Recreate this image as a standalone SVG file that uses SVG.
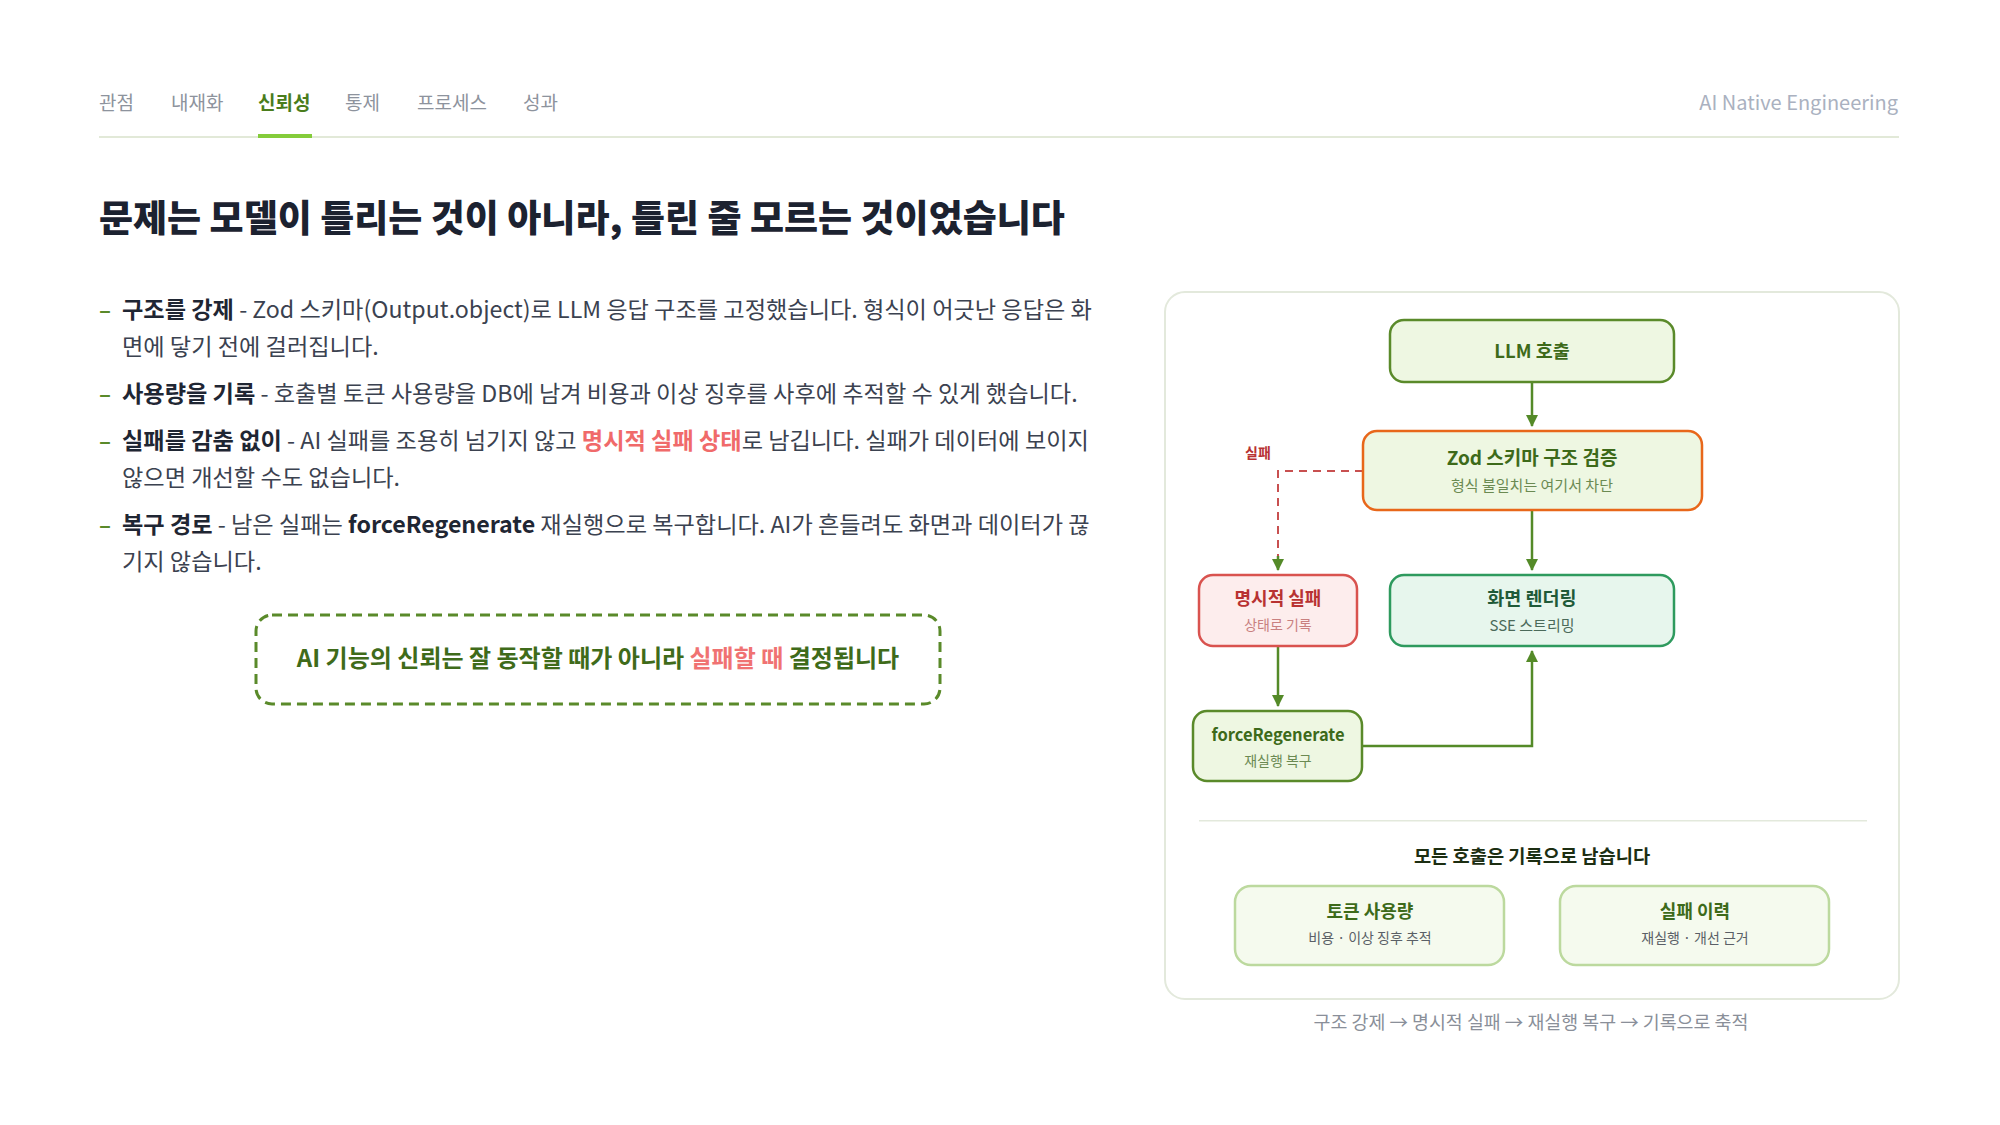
<svg xmlns="http://www.w3.org/2000/svg" width="2000" height="1125" viewBox="0 0 2000 1125">
<defs>
<style>
text{font-family:"Noto Sans CJK KR","Noto Sans",sans-serif;}
.nav{font-size:19px;fill:#8d939d;}
.navon{font-size:19px;fill:#4a7d1c;font-weight:700;}
.body{font-size:23.2px;fill:#3b4250;}
.b{font-weight:700;fill:#1f2633;}
.red{font-weight:700;fill:#f06a6a;}
.dash{font-size:22px;fill:#5a8a2a;font-weight:700;}
.nt{font-weight:700;text-anchor:middle;}
.ns{text-anchor:middle;}
.g{fill:#3d6a1a;}
.gs{fill:#6b8a52;}
.edge{fill:none;stroke:#548a28;stroke-width:2.5;}
</style>
<marker id="ah" viewBox="0 0 12 12" refX="11" refY="6" markerWidth="12" markerHeight="12" markerUnits="userSpaceOnUse" orient="auto">
<path d="M0,0 L12,6 L0,12 z" fill="#548a28"/>
</marker>
</defs>
<rect width="2000" height="1125" fill="#ffffff"/>

<g id="nav">
<text class="nav" x="99" y="110">관점</text>
<text class="nav" x="171" y="110">내재화</text>
<text class="navon" x="258" y="110">신뢰성</text>
<text class="nav" x="345" y="110">통제</text>
<text class="nav" x="417" y="110">프로세스</text>
<text class="nav" x="523" y="110">성과</text>
<text x="1898" y="110" font-size="20" fill="#aab1c0" text-anchor="end">AI Native Engineering</text>
<rect x="99" y="136" width="1800" height="2" fill="#e2e9d8"/>
<rect x="258" y="134" width="54" height="4" fill="#84cc3a"/>
</g>

<g id="title">
<text x="99" y="232" font-size="37" font-weight="800" fill="#1c2230">문제는 모델이 틀리는 것이 아니라, 틀린 줄 모르는 것이었습니다</text>
</g>

<g id="bullets">
<text class="dash" x="99" y="318">–</text>
<text class="body" x="122" y="318"><tspan class="b">구조를 강제</tspan> - Zod 스키마(Output.object)로 LLM 응답 구조를 고정했습니다. 형식이 어긋난 응답은 화</text>
<text class="body" x="122" y="355">면에 닿기 전에 걸러집니다.</text>
<text class="dash" x="99" y="402">–</text>
<text class="body" x="122" y="402"><tspan class="b">사용량을 기록</tspan> - 호출별 토큰 사용량을 DB에 남겨 비용과 이상 징후를 사후에 추적할 수 있게 했습니다.</text>
<text class="dash" x="99" y="449">–</text>
<text class="body" x="122" y="449"><tspan class="b">실패를 감춤 없이</tspan> - AI 실패를 조용히 넘기지 않고 <tspan class="red">명시적 실패 상태</tspan>로 남깁니다. 실패가 데이터에 보이지</text>
<text class="body" x="122" y="486">않으면 개선할 수도 없습니다.</text>
<text class="dash" x="99" y="533">–</text>
<text class="body" x="122" y="533"><tspan class="b">복구 경로</tspan> - 남은 실패는 <tspan class="b">forceRegenerate</tspan> 재실행으로 복구합니다. AI가 흔들려도 화면과 데이터가 끊</text>
<text class="body" x="122" y="570">기지 않습니다.</text>
</g>

<g id="callout">
<rect x="256" y="615" width="684" height="89" rx="16" fill="none" stroke="#5a8a2a" stroke-width="3" stroke-dasharray="10 6"/>
<text x="598" y="667" font-size="24" font-weight="700" fill="#3f6b1a" text-anchor="middle">AI 기능의 신뢰는 잘 동작할 때가 아니라 <tspan fill="#f07272">실패할 때</tspan> 결정됩니다</text>
</g>

<g id="panel">
<rect x="1165" y="292" width="734" height="707" rx="20" fill="#ffffff" stroke="#e3e9dc" stroke-width="2"/>
</g>

<g id="connectors">
<line class="edge" x1="1532" y1="382" x2="1532" y2="426" marker-end="url(#ah)"/>
<line class="edge" x1="1532" y1="510" x2="1532" y2="570" marker-end="url(#ah)"/>
<polyline points="1363,471 1278,471 1278,556" fill="none" stroke="#c85050" stroke-width="2" stroke-dasharray="8 6"/>
<line class="edge" x1="1278" y1="556" x2="1278" y2="570" marker-end="url(#ah)"/>
<line class="edge" x1="1278" y1="646" x2="1278" y2="706" marker-end="url(#ah)"/>
<polyline class="edge" points="1362,746 1532,746 1532,651" marker-end="url(#ah)"/>
</g>

<g id="node-llm">
<rect x="1390" y="320" width="284" height="62" rx="14" fill="#eef7e2" stroke="#5a8a2a" stroke-width="2.5"/>
<text class="nt g" x="1532" y="358" font-size="18.5">LLM 호출</text>
</g>

<g id="label-fail">
<text x="1258" y="458" font-size="14" font-weight="700" fill="#b83232" text-anchor="middle">실패</text>
</g>

<g id="node-zod">
<rect x="1363" y="431" width="339" height="79" rx="14" fill="#eef7e2" stroke="#e8671a" stroke-width="2.5"/>
<text class="nt g" x="1532" y="465" font-size="19">Zod 스키마 구조 검증</text>
<text class="ns gs" x="1532" y="491" font-size="15">형식 불일치는 여기서 차단</text>
</g>

<g id="node-fail">
<rect x="1199" y="575" width="158" height="71" rx="14" fill="#fdeded" stroke="#d9534f" stroke-width="2.5"/>
<text class="nt" x="1278" y="605" font-size="18" fill="#b83232">명시적 실패</text>
<text class="ns" x="1278" y="630" font-size="14" fill="#c98080">상태로 기록</text>
</g>

<g id="node-render">
<rect x="1390" y="575" width="284" height="71" rx="14" fill="#e7f6ed" stroke="#2e9a5e" stroke-width="2.5"/>
<text class="nt" x="1532" y="605" font-size="18.5" fill="#1f5a38">화면 렌더링</text>
<text class="ns" x="1532" y="631" font-size="15" fill="#4b6a5a">SSE 스트리밍</text>
</g>

<g id="node-regen">
<rect x="1193" y="711" width="169" height="70" rx="14" fill="#eef7e2" stroke="#5a8a2a" stroke-width="2.5"/>
<text class="nt g" x="1278" y="741" font-size="16.5">forceRegenerate</text>
<text class="ns gs" x="1278" y="766" font-size="14">재실행 복구</text>
</g>

<g id="records">
<rect x="1199" y="820" width="668" height="1.5" fill="#e3e9dc"/>
<text x="1532" y="863" font-size="18.7" font-weight="700" fill="#1c2e12" text-anchor="middle">모든 호출은 기록으로 남습니다</text>
</g>

<g id="node-token">
<rect x="1235" y="886" width="269" height="79" rx="16" fill="#f5faee" stroke="#bcd99e" stroke-width="2.5"/>
<text class="nt g" x="1370" y="918" font-size="18">토큰 사용량</text>
<text class="ns" x="1370" y="943" font-size="14" fill="#5a5f66">비용 · 이상 징후 추적</text>
</g>

<g id="node-history">
<rect x="1560" y="886" width="269" height="79" rx="16" fill="#f5faee" stroke="#bcd99e" stroke-width="2.5"/>
<text class="nt g" x="1695" y="918" font-size="18">실패 이력</text>
<text class="ns" x="1695" y="943" font-size="14" fill="#5a5f66">재실행 · 개선 근거</text>
</g>

<g id="caption">
<text x="1531" y="1029" font-size="18.4" fill="#8a8f99" text-anchor="middle">구조 강제 → 명시적 실패 → 재실행 복구 → 기록으로 축적</text>
</g>
</svg>
